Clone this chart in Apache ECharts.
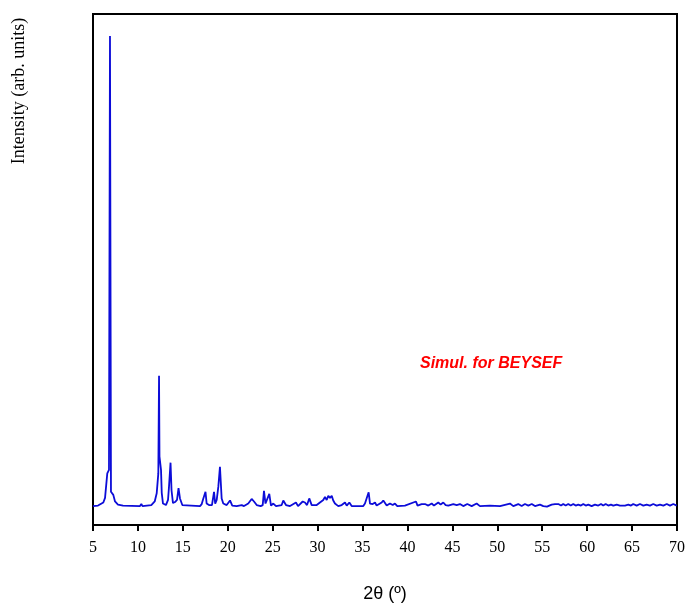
<!DOCTYPE html>
<html>
<head>
<meta charset="utf-8">
<script src="https://cdn.jsdelivr.net/npm/echarts@6/dist/echarts.min.js"></script>
<style>
html,body{margin:0;padding:0;background:#fff;}
#chart{width:685px;height:605px;}
</style>
</head>
<body>
<div id="chart"></div>
<script>
// 2θ positions (degrees)
const twoTheta = [
5.00,5.56,6.15,6.34,6.59,6.78,6.89,7.00,7.26,7.45,7.78,8.34,
10.23,10.38,10.51,11.49,11.87,12.09,12.27,12.35,12.40,12.57,12.65,12.79,
13.12,13.35,13.46,13.63,13.74,13.90,14.13,14.35,14.52,14.68,14.94,15.13,
16.91,17.10,17.28,17.52,17.65,17.91,18.24,18.47,18.60,18.77,18.95,19.13,19.32,19.50,
19.88,20.25,20.50,20.99,21.55,21.81,22.28,22.66,22.92,23.22,23.66,23.89,24.03,24.20,
24.40,24.62,24.81,25.07,25.37,26.00,26.18,26.48,26.93,27.59,27.82,28.34,28.59,28.82,
29.07,29.34,29.90,30.26,30.63,30.82,31.01,31.19,31.38,31.57,31.74,31.93,32.30,32.68,
33.05,33.24,33.53,33.79,35.08,35.27,35.46,35.68,35.83,36.13,36.39,36.57,37.13,37.31,
37.50,37.69,38.05,38.36,38.61,38.87,39.72,40.95,41.12,41.58,41.95,42.32,42.70,42.95,
43.43,43.69,43.99,44.25,44.54,45.10,45.48,45.84,46.21,46.66,47.15,47.70,48.07,49.18,
50.30,51.41,51.78,52.33,52.71,53.08,53.45,53.83,54.19,54.75,55.12,55.53,56.05,56.42,
56.61,56.79,57.09,57.34,57.61,57.90,58.17,58.46,58.72,59.01,59.31,59.57,59.84,60.13,
60.50,60.87,61.24,61.54,61.79,62.06,62.35,62.65,62.91,63.29,63.65,63.84,64.21,64.58,
64.88,65.13,65.51,65.88,66.25,66.62,66.99,67.36,67.74,68.11,68.48,68.86,69.22,69.59,69.97
];
// intensities (arb. units)
const intensity = [
3.7,3.8,4.4,5.3,10.1,10.8,95.7,6.5,5.9,4.6,4.0,3.8,
3.7,4.1,3.7,3.9,4.6,6.2,10.1,29.2,13.4,10.8,6.3,4.2,
3.9,4.9,7.5,12.2,6.8,4.3,4.5,4.9,7.2,5.2,3.9,3.7,
3.7,4.1,5.2,6.5,4.2,3.9,3.9,6.5,4.2,4.9,7.5,11.4,5.2,4.2,
3.9,4.8,3.8,3.7,3.9,3.7,4.2,5.1,4.6,3.9,3.7,3.9,6.7,4.2,
4.1,6.1,3.8,4.2,3.7,3.9,4.8,3.9,3.7,4.4,3.7,4.6,4.4,3.9,
5.2,3.9,3.9,4.4,4.9,5.5,4.9,5.7,5.3,5.7,4.8,4.2,3.7,3.9,
4.4,3.8,4.4,3.7,3.7,4.2,4.4,6.4,4.2,4.1,4.4,3.8,4.4,4.8,
4.6,3.8,4.2,3.9,4.2,3.7,3.8,4.6,3.8,4.1,4.1,3.8,4.2,3.8,
4.4,4.0,4.4,3.9,3.8,4.1,3.9,4.1,3.7,4.1,3.7,4.2,3.7,3.8,
3.7,4.2,3.7,4.1,3.7,4.1,3.8,4.1,3.7,4.0,3.7,3.6,4.0,4.1,
3.8,4.1,3.8,4.1,3.8,4.1,3.8,4.1,3.8,4.0,3.8,4.1,3.8,4.0,
3.7,4.0,3.8,4.1,3.8,4.1,3.8,4.0,3.8,4.0,3.8,4.0,3.8,4.0,
3.8,4.1,3.8,4.1,3.8,4.0,3.8,4.1,3.8,4.0,3.8,4.1,3.8,4.1,3.8
];
const xTicks = ['5','10','15','20','25','30','35','40','45','50','55','60','65','70'];
const xTitle = '2\u03b8 (\u00ba)';
const yTitle = 'Intensity (arb. units)';
const annotation = 'Simul. for BEYSEF';

const seriesData = twoTheta.map((x, i) => [x, intensity[i]]);

const chart = echarts.init(document.getElementById('chart'), null, {renderer: 'canvas'});
chart.setOption({
  animation: false,
  backgroundColor: '#ffffff',
  grid: {left: 93, right: 8, top: 14, bottom: 80, containLabel: false, outerBoundsMode: 'none',
    show: true, borderColor: '#000', borderWidth: 2, backgroundColor: 'transparent'},
  xAxis: {
    type: 'value', min: 5, max: 70, interval: 5,
    axisLine: {show: true, lineStyle: {color: '#000', width: 2}},
    axisTick: {show: true, inside: false, length: 6, lineStyle: {color: '#000', width: 2}},
    axisLabel: {color: '#000', fontFamily: 'Liberation Serif', fontSize: 16, margin: 15,
      formatter: v => xTicks[Math.round((v - 5) / 5)] },
    splitLine: {show: false},
    name: xTitle, nameLocation: 'middle', nameGap: 60,
    nameTextStyle: {color: '#000', fontFamily: 'Liberation Sans', fontSize: 18}
  },
  yAxis: {
    type: 'value', min: 0, max: 100,
    axisLine: {show: true, lineStyle: {color: '#000', width: 2}},
    axisTick: {show: false}, axisLabel: {show: false}, splitLine: {show: false}
  },
  graphic: [
    {type: 'text', x: 19, y: 91, rotation: Math.PI / 2,
      style: {text: yTitle, fill: '#000', font: '18px "Liberation Serif"', align: 'center', verticalAlign: 'middle'}},
    {type: 'text', x: 420, y: 364,
      style: {text: annotation, fill: '#ff0000', font: 'italic bold 16px "Liberation Sans"', align: 'left', verticalAlign: 'middle'}}
  ],
  series: [{
    type: 'line', data: seriesData, showSymbol: false, symbol: 'none', smooth: false,
    lineStyle: {color: '#0c0cd8', width: 1.8}, z: 3
  }]
});
</script>
</body>
</html>
